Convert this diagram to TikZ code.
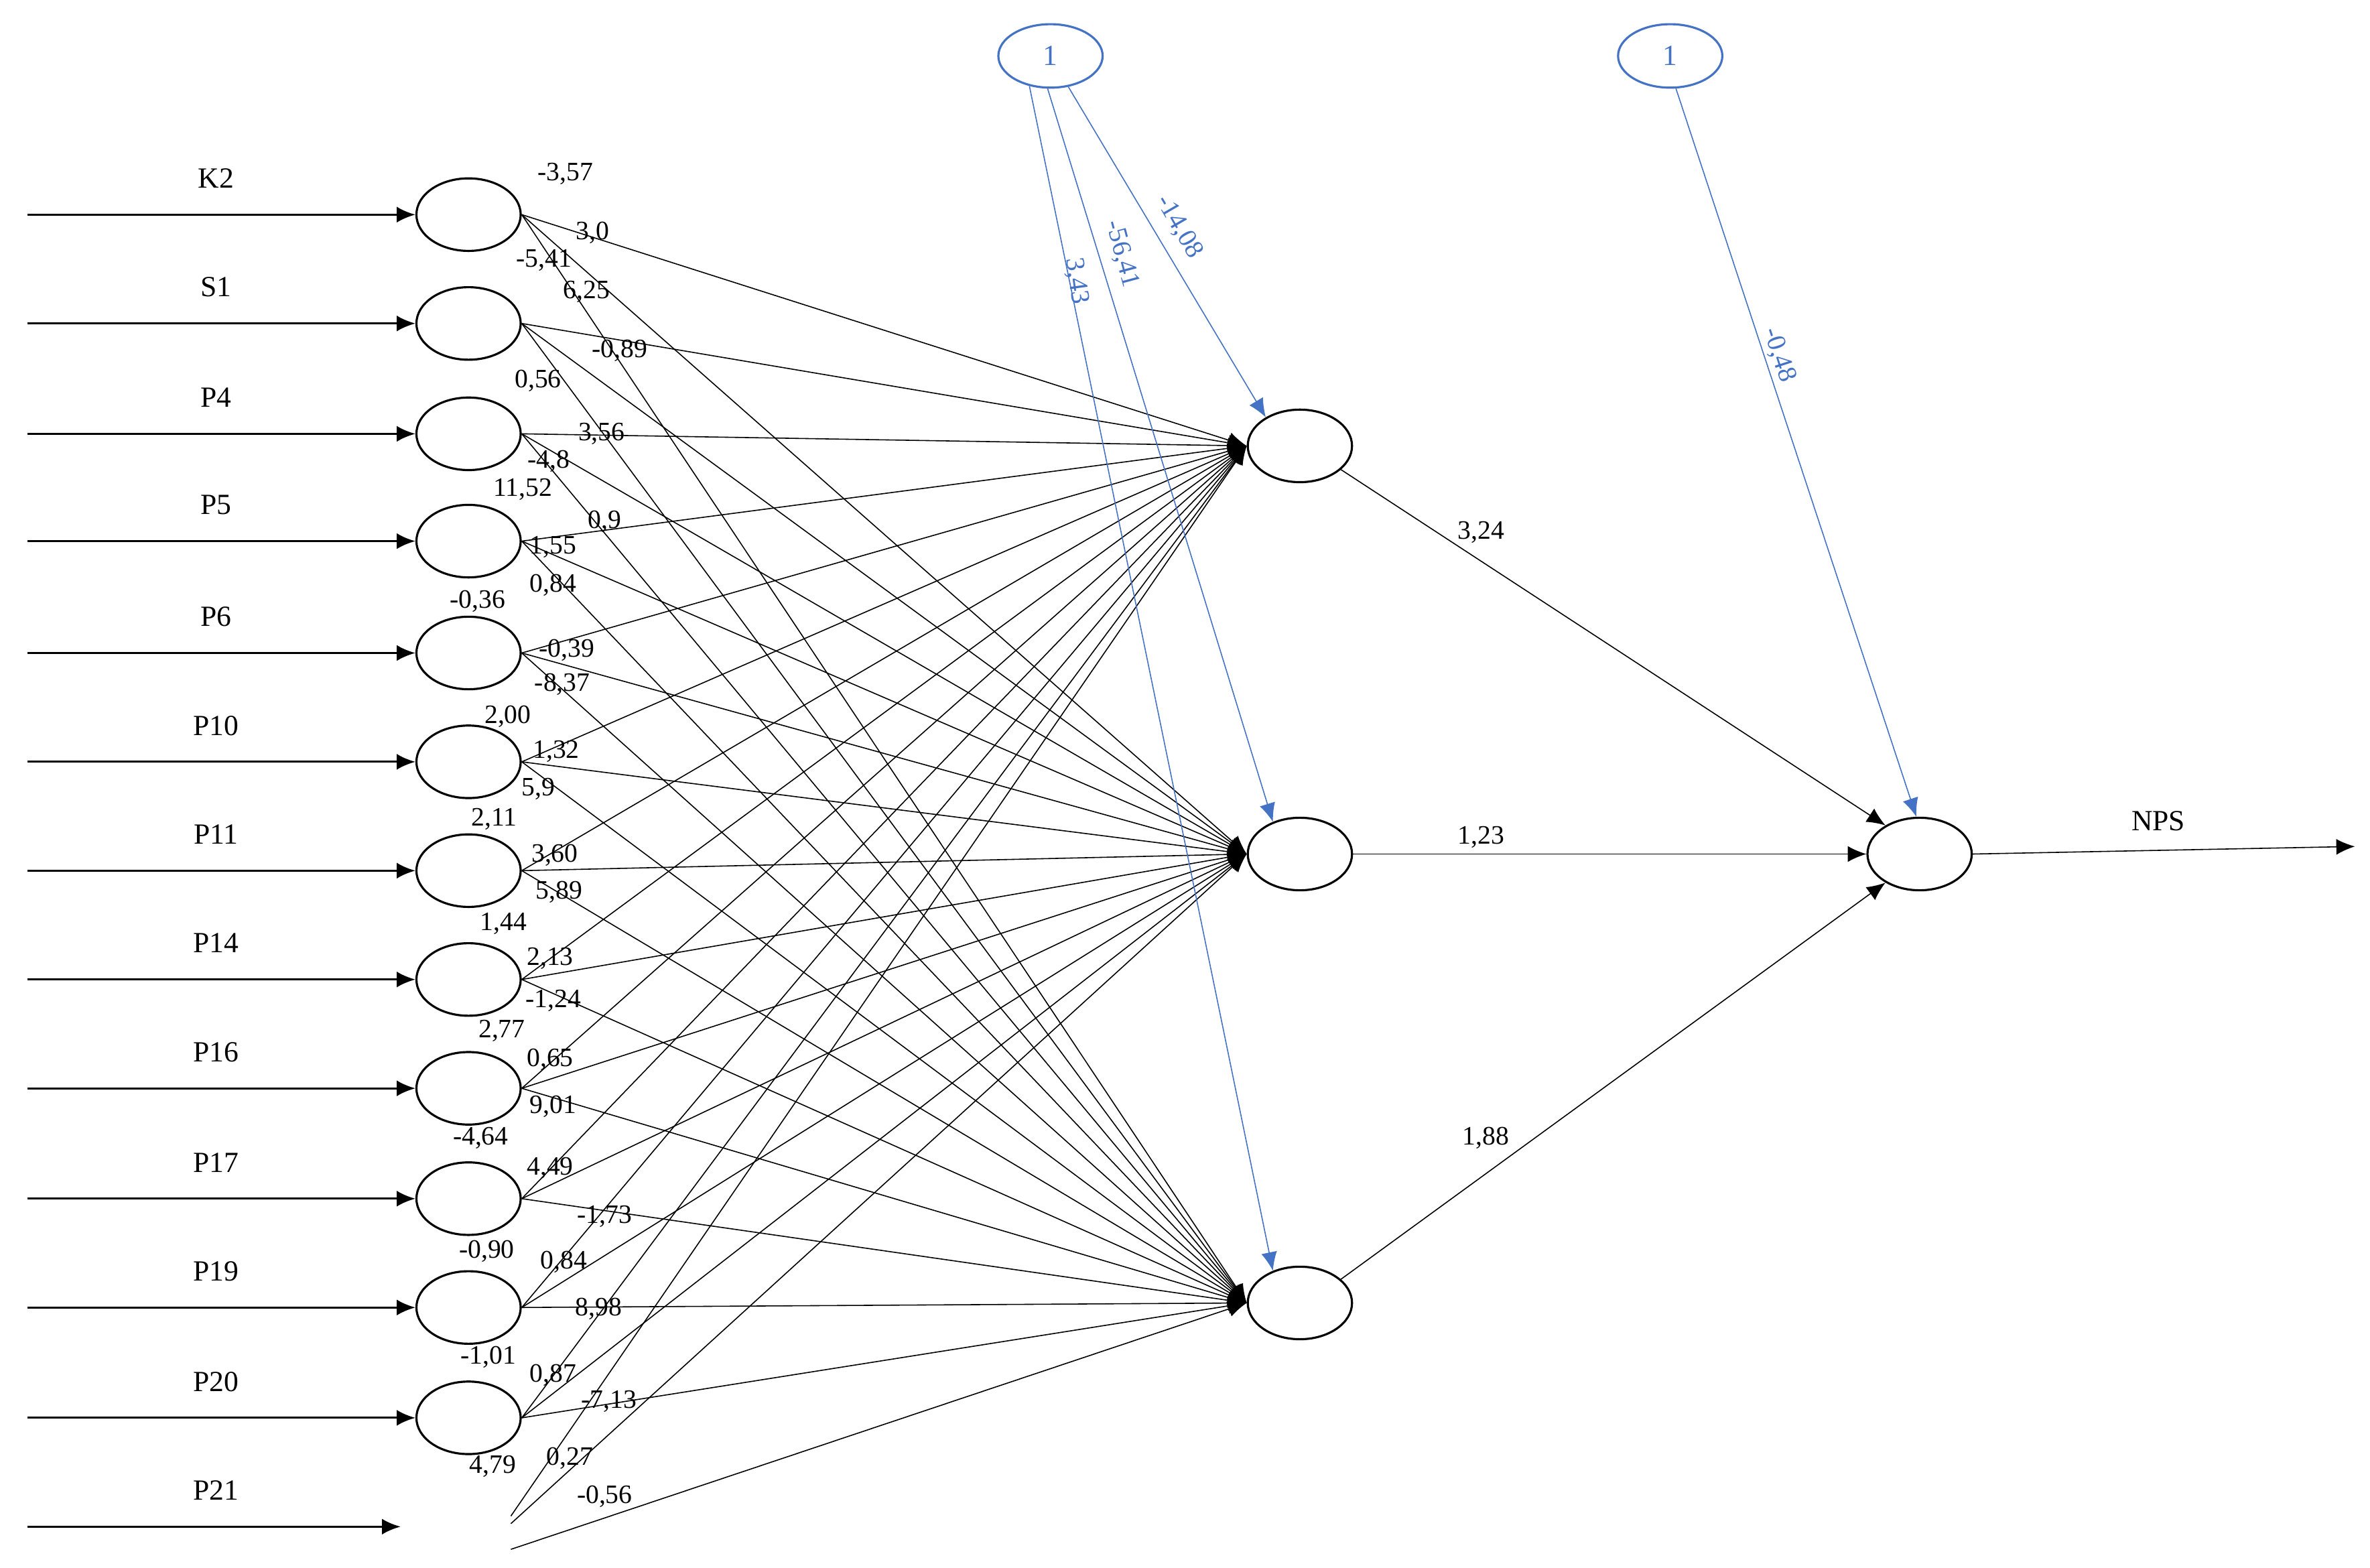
\documentclass[tikz,border=0pt]{standalone}
\usepackage{fontspec}
\setmainfont{Liberation Serif}
\usetikzlibrary{shapes.geometric,arrows.meta}
\definecolor{bl}{RGB}{68,114,196}
\begin{document}
\begin{tikzpicture}[x=0.02cm,y=-0.02cm,
 neu/.style={ellipse,draw,thick,minimum width=1.38cm,minimum height=0.96cm,inner sep=0},
 bias/.style={ellipse,draw=bl,thick,minimum width=1.38cm,minimum height=0.84cm,inner sep=0,text=bl,font=\fontsize{11}{12}\selectfont},
 inarr/.style={thick,-{Latex[length=7pt,width=6pt]}},
 w/.style={-{Latex[length=7pt,width=6pt]}},
 bw/.style={draw=bl,-{Latex[length=7pt,width=6pt]}},
 lab/.style={font=\fontsize{11}{13}\selectfont},
 wl/.style={font=\fontsize{10}{12}\selectfont,inner sep=0},
 bwl/.style={font=\fontsize{10}{12}\selectfont,inner sep=0,text=bl}]
\useasboundingbox (0,0) rectangle (1568,1037);
\foreach \n/\y/\t in {1/142/K2,2/214/S1,3/287/P4,4/358/P5,5/432/P6,6/504/P10,7/576/P11,8/648/P14,9/720/P16,10/793/P17,11/865/P19,12/938/P20}{
 \node[neu] (i\n) at (310,\y) {};
 \coordinate (s\n) at (18,\y);
 \draw[inarr] (s\n) -- (i\n);
 \node[lab] (l\n) at (143,\y-24) {\t};
}
\coordinate (s13) at (18,1010);
\coordinate (e13) at (265,1010);
\draw[inarr] (s13) -- (e13);
\node[lab] (l13) at (143,986) {P21};
\coordinate (q1) at (338,1003);
\coordinate (q2) at (338,1008);
\coordinate (q3) at (338,1025);
\node[neu] (h1) at (860,295) {};
\node[neu] (h2) at (860,565) {};
\node[neu] (h3) at (860,862) {};
\node[neu] (o) at (1270,565) {};
\node[bias] (b1) at (695,37) {1};
\node[bias] (b2) at (1105,37) {1};
\foreach \n in {1,...,12}{
 \foreach \h in {1,2,3}{ \draw[w] (i\n.east) -- (h\h.west); }
}
\draw[w] (q1) -- (h1.west);
\draw[w] (q2) -- (h2.west);
\draw[w] (q3) -- (h3.west);
\draw[bw] (b1.-60) -- (h1.140);
\draw[bw] (b1.-95) -- (h2.130);
\draw[bw] (b1.-125) -- (h3.130);
\draw[bw] (b2.-80) -- (o.95);
\draw[w] (h1.-30) -- (o.140);
\draw[w] (h2.east) -- (o.west);
\draw[w] (h3.30) -- (o.-140);
\coordinate (oe) at (1558,560);
\draw[w] (o.east) -- (oe);
\node[lab] (nps) at (1428,543) {NPS};
\node[wl] at (980,352) {3,24};
\node[wl] at (980,554) {1,23};
\node[wl] at (983,753) {1,88};
\node[bwl,rotate=-60] at (780,150) {-14,08};
\node[bwl,rotate=-75] at (742,168) {-56,41};
\node[bwl,rotate=-82] at (712,186) {3,43};
\node[bwl,rotate=-72] at (1177,235) {-0,48};
\foreach \x/\y/\t in {374/115/-3{,}57,392/154/3{,}0,360/172/-5{,}41,388/193/6{,}25,410/232/-0{,}89,356/252/0{,}56,398/287/3{,}56,363/305/-4{,}8,346/324/11{,}52,400/345/0{,}9,366/362/1{,}55,366/387/0{,}84,316/398/-0{,}36,375/430/-0{,}39,372/453/-8{,}37,336/474/2{,}00,368/497/1{,}32,356/522/5{,}9,327/542/2{,}11,367/566/3{,}60,370/590/5{,}89,333/611/1{,}44,364/634/2{,}13,366/662/-1{,}24,332/682/2{,}77,364/701/0{,}65,366/732/9{,}01,318/753/-4{,}64,364/773/4{,}49,400/805/-1{,}73,322/828/-0{,}90,373/835/0{,}84,396/866/8{,}98,323/898/-1{,}01,366/910/0{,}87,403/927/-7{,}13,326/970/4{,}79,377/965/0{,}27,400/990/-0{,}56}{
 \node[wl] at (\x,\y) {\t};
}
\end{tikzpicture}
\end{document}
